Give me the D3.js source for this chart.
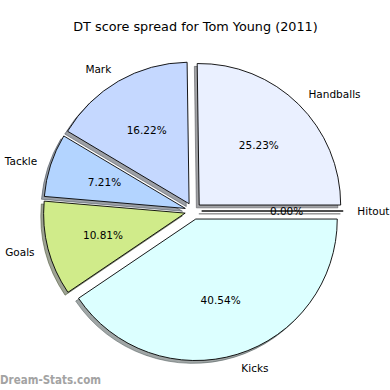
<!DOCTYPE html>
<html><head><meta charset="utf-8">
<script src="https://cdn.jsdelivr.net/npm/d3@7"></script>
<style>body{margin:0;background:#fff}svg{display:block}text{font-family:"DejaVu Sans",sans-serif}</style>
</head><body><svg id="c" width="390" height="390"></svg>
<script>
const categories = ["Handballs","Mark","Tackle","Goals","Kicks","Hitout"];
const values = [28,18,8,12,45,0];
const colors = ["#eaf0ff","#c5d8ff","#b3d4ff","#d0eb8a","#dcffff","#ffffff"];
const title = "DT score spread for Tom Young (2011)";
const watermark = "Dream-Stats.com";

const svg = d3.select("#c");
const cx = 193.3, cy = 211, R = 141.5, explode = 8.4, shadowOff = 0.02*R;
const data = categories.map((c,i)=>({label:c,value:values[i],color:colors[i]}));
const total = d3.sum(values);
// matplotlib style: start at 3 o'clock, counterclockwise
const pie = d3.pie().value(d=>d.value).sort(null).startAngle(Math.PI/2).endAngle(Math.PI/2-2*Math.PI);
const arcs = pie(data);
const arc = d3.arc().innerRadius(0).outerRadius(R);
function mid(a){ return (a.startAngle+a.endAngle)/2; } // d3 angle
function off(a, dist){ const m = mid(a); return [dist*Math.sin(m), -dist*Math.cos(m)]; }

const g = svg.append("g").attr("transform",`translate(${cx},${cy})`);
// shadows
g.selectAll("path.sh").data(arcs).join("path").attr("class","sh")
  .attr("d",arc)
  .attr("transform",a=>{const o=off(a,explode);return `translate(${o[0]-shadowOff},${o[1]+shadowOff})`;})
  .attr("fill",a=>{const c=d3.rgb(a.data.color);return `rgba(${c.r*0.3},${c.g*0.3},${c.b*0.3},0.5)`;})
  .attr("stroke",a=>{const c=d3.rgb(a.data.color);return `rgba(${c.r*0.3},${c.g*0.3},${c.b*0.3},0.5)`;})
  .attr("stroke-width",1);
// wedges
g.selectAll("path.w").data(arcs).join("path").attr("class","w")
  .attr("d",arc)
  .attr("transform",a=>{const o=off(a,explode);return `translate(${o[0]},${o[1]})`;})
  .attr("fill",a=>a.data.color)
  .attr("stroke","#000").attr("stroke-width",0.9).attr("stroke-linejoin","round");
// labels
g.selectAll("text.lab").data(arcs).join("text").attr("class","lab")
  .each(function(a){
    const o=off(a,explode+1.1*R);
    d3.select(this).attr("x",o[0]).attr("y",o[1])
      .attr("text-anchor",o[0]>0?"start":"end");
  })
  .attr("dominant-baseline","central").attr("font-size",10.5).attr("fill","#000")
  .text(a=>a.data.label);
// percentages
g.selectAll("text.pct").data(arcs).join("text").attr("class","pct")
  .each(function(a){
    const o=off(a,explode+0.6*R);
    d3.select(this).attr("x",o[0]).attr("y",o[1]);
  })
  .attr("text-anchor","middle").attr("dominant-baseline","central").attr("font-size",10.5).attr("fill","#000")
  .text(a=>(100*a.data.value/total).toFixed(2)+"%");

svg.append("text").attr("x",195.5).attr("y",31).attr("text-anchor","middle")
  .attr("font-size",12.8).text(title);
svg.append("text").attr("x",0).attr("y",384)
  .attr("font-size",13).attr("font-weight","bold").attr("fill","#a3a3a3")
  .attr("textLength",101).attr("lengthAdjust","spacingAndGlyphs").text(watermark);
</script></body></html>
